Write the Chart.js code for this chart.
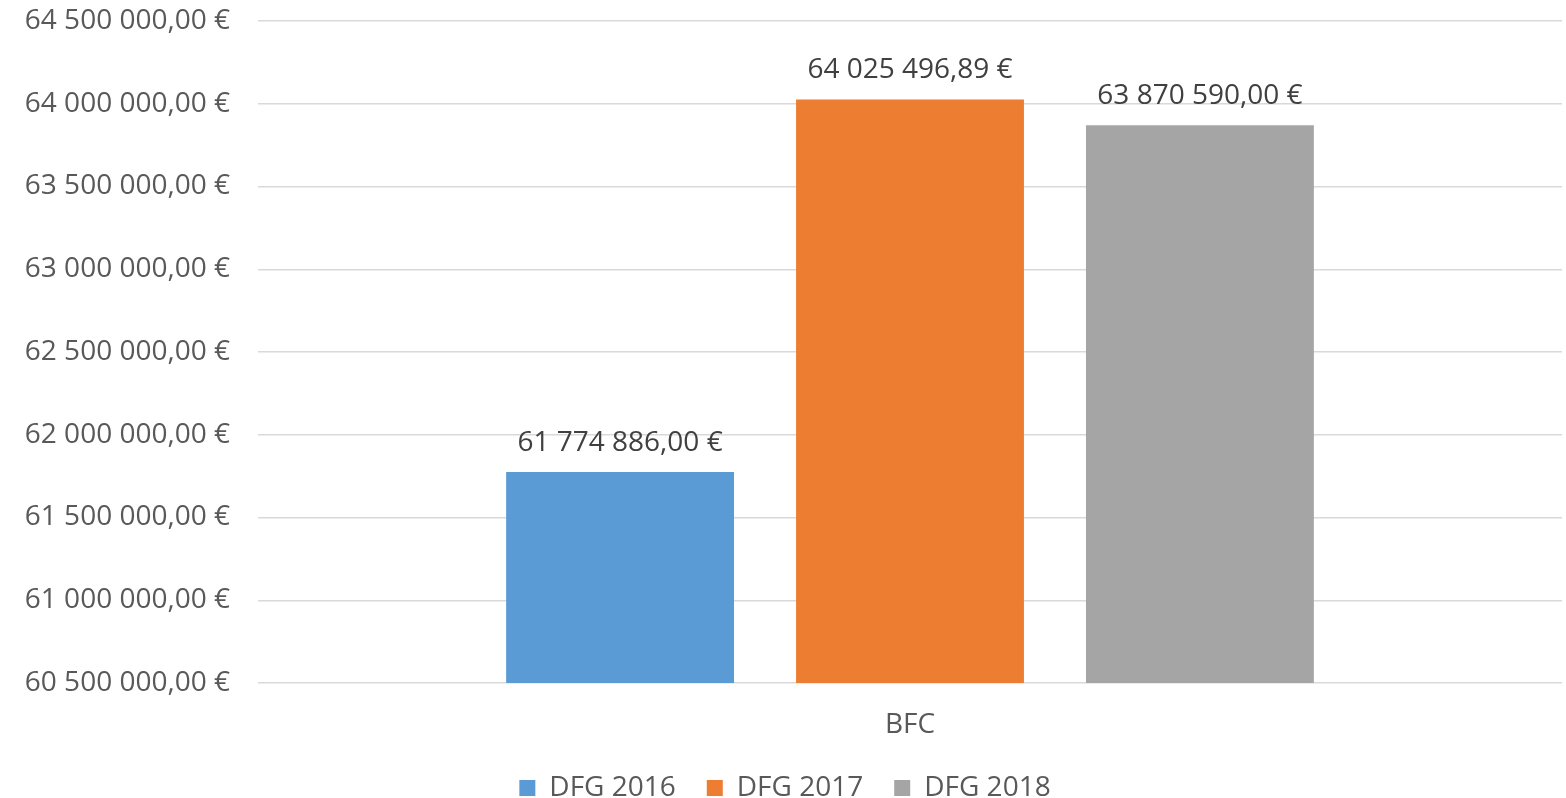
<!DOCTYPE html>
<html>
<head>
<meta charset="utf-8">
<script src="https://cdn.jsdelivr.net/npm/chart.js@4/dist/chart.umd.min.js"></script>
<style>
  html, body { margin: 0; padding: 0; background: #fff; }
  #wrap { width: 1566px; height: 798px; }
</style>
</head>
<body>
<div id="wrap"><canvas id="chart"></canvas></div>
<script>
// ---- data ----
const categories = ['BFC'];
const seriesNames = ['DFG 2016', 'DFG 2017', 'DFG 2018'];
const dfg2016 = [61774886.00];
const dfg2017 = [64025496.89];
const dfg2018 = [63870590.00];
const colors = ['#5B9BD5', '#ED7D31', '#A5A5A5'];
const yMin = 60500000;
const yMax = 64500000;
const yStep = 500000;

const textColor = '#595959';
const fontFamily = '"Open Sans", "Noto Sans", sans-serif';

function euro(v) {
  let parts = v.toFixed(2).split('.');
  let intPart = parts[0].replace(/\B(?=(\d{3})+(?!\d))/g, ' ');
  return intPart + ',' + parts[1] + ' €';
}

// draws value labels above each bar
const valueLabels = {
  id: 'valueLabels',
  afterDatasetsDraw(chart) {
    const ctx = chart.ctx;
    ctx.save();
    ctx.font = '28px ' + fontFamily;
    ctx.fillStyle = '#404040';
    ctx.textAlign = 'center';
    ctx.textBaseline = 'middle';
    chart.data.datasets.forEach((ds, i) => {
      chart.getDatasetMeta(i).data.forEach((bar, j) => {
        ctx.fillText(euro(ds.data[j]), bar.x, bar.y - 29);
      });
    });
    ctx.restore();
  }
};

let ctx = document.getElementById('chart').getContext('2d');
let myChart = new Chart(ctx, {
  type: 'bar',
  data: {
    labels: categories,
    datasets: [
      { label: seriesNames[0], data: dfg2016, backgroundColor: colors[0] },
      { label: seriesNames[1], data: dfg2017, backgroundColor: colors[1] },
      { label: seriesNames[2], data: dfg2018, backgroundColor: colors[2] }
    ]
  },
  options: {
    responsive: true,
    maintainAspectRatio: false,
    animation: false,
    categoryPercentage: 0.667,
    barPercentage: 0.786,
    layout: { padding: { top: 0, right: 4, left: 8, bottom: -14 } },
    plugins: {
      legend: {
        position: 'bottom',
        labels: {
          color: textColor,
          font: { size: 28, family: fontFamily },
          boxWidth: 16,
          boxHeight: 16,
          padding: 31
        }
      },
      tooltip: { enabled: false }
    },
    scales: {
      x: {
        grid: { display: false },
        border: { display: false },
        afterFit(scale) { scale.height = 60; },
        ticks: { color: textColor, font: { size: 28, family: fontFamily }, padding: 17 }
      },
      y: {
        min: yMin,
        max: yMax,
        afterFit(scale) {
          scale.width = 250;
          scale.paddingTop = 21;
        },
        ticks: {
          stepSize: yStep,
          color: textColor,
          font: { size: 28, family: fontFamily },
          padding: 28,
          callback: v => euro(v)
        },
        grid: { color: '#D9D9D9', lineWidth: 1.5, drawTicks: false },
        border: { display: false }
      }
    }
  },
  plugins: [valueLabels]
});
</script>
</body>
</html>
